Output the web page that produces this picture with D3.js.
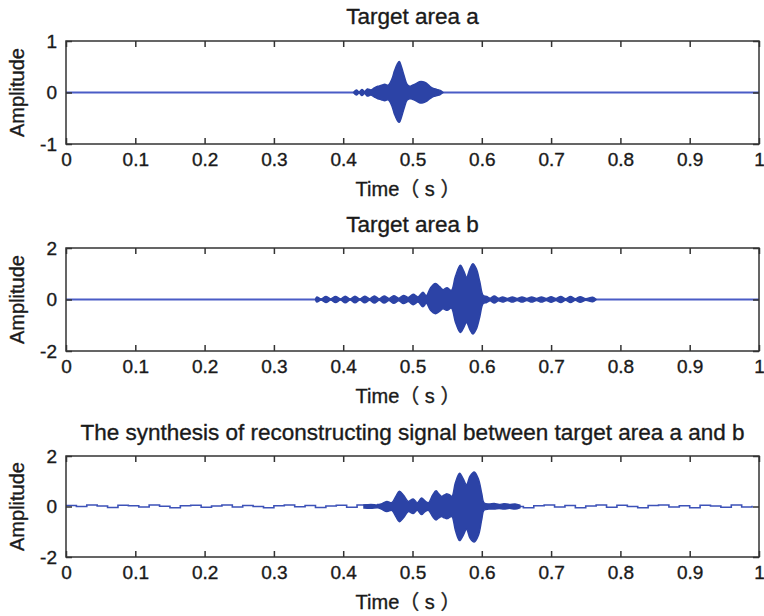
<!DOCTYPE html>
<html lang='en'>
<head>
  <meta charset='UTF-8'>
  <title>Target area signals</title>
  <style>
  body {
    margin: 0;
    background: #fff;
  }
  text {
    font-family: 'Liberation Sans', Arial, 'Noto Sans CJK SC', sans-serif;
    fill: #1a1a1a;
    stroke: #1a1a1a;
    stroke-width: 0.35px;
  }
  .tick text {
    font-size: 19px;
  }
  .label {
    font-size: 20px;
  }
  .title {
    font-size: 22.5px;
  }
  .axis path {
    display: none;
  }
  .axis line {
    stroke: #333;
    stroke-width: 1.5;
  }
  </style>
  <script src="https://d3js.org/d3.v7.min.js"></script>
</head>
<body>
  <script>

  // ---- data ----

  var xTicks = [0, 0.1, 0.2, 0.3, 0.4, 0.5, 0.6, 0.7, 0.8, 0.9, 1];
  var titles = [
    'Target area a',
    'Target area b',
    'The synthesis of reconstructing signal between target area a and b'
  ];
  var yTicksA = [-1, 0, 1];
  var yTicksB = [-2, 0, 2];

  // envelope of the burst in panel a
  var envTimeA = [0.415, 0.419, 0.423, 0.427, 0.431, 0.435, 0.44, 0.445, 0.45, 0.455, 0.46, 0.465, 0.47, 0.474, 0.478, 0.481, 0.484, 0.488, 0.492, 0.496, 0.5, 0.505, 0.51, 0.515, 0.52, 0.525, 0.53, 0.535, 0.54, 0.544];
  var envUpA = [0, 0.05, 0.01, 0.06, 0.02, 0.07, 0.05, 0.09, 0.12, 0.14, 0.16, 0.14, 0.25, 0.42, 0.55, 0.6, 0.5, 0.32, 0.16, 0.12, 0.14, 0.17, 0.21, 0.21, 0.18, 0.12, 0.08, 0.06, 0.04, 0];
  var envLowA = [0, -0.05, -0.01, -0.06, -0.02, -0.07, -0.05, -0.09, -0.12, -0.14, -0.16, -0.14, -0.25, -0.42, -0.54, -0.58, -0.48, -0.3, -0.15, -0.12, -0.13, -0.16, -0.2, -0.2, -0.17, -0.12, -0.08, -0.06, -0.04, 0];

  // envelope of the burst in panel b
  var envTimeB = [0.36, 0.362, 0.368, 0.375, 0.382, 0.389, 0.396, 0.403, 0.41, 0.417, 0.424, 0.431, 0.438, 0.445, 0.452, 0.459, 0.466, 0.473, 0.48, 0.487, 0.494, 0.501, 0.508, 0.515, 0.52, 0.526, 0.533, 0.539, 0.544, 0.55, 0.556, 0.562, 0.569, 0.574, 0.578, 0.583, 0.587, 0.592, 0.597, 0.602, 0.607, 0.612, 0.618, 0.624, 0.63, 0.637, 0.644, 0.651, 0.658, 0.665, 0.672, 0.679, 0.686, 0.693, 0.7, 0.707, 0.714, 0.721, 0.728, 0.735, 0.742, 0.75, 0.76, 0.765];
  var envUpB = [0, 0.1, 0.02, 0.12, 0.02, 0.12, 0.02, 0.13, 0.02, 0.13, 0.02, 0.13, 0.03, 0.14, 0.03, 0.14, 0.04, 0.15, 0.05, 0.16, 0.08, 0.2, 0.1, 0.28, 0.15, 0.45, 0.62, 0.5, 0.38, 0.46, 0.35, 0.9, 1.33, 1.1, 0.86, 1.2, 1.39, 1.2, 0.7, 0.15, 0.12, 0.05, 0.14, 0.05, 0.1, 0.04, 0.1, 0.04, 0.1, 0.04, 0.1, 0.04, 0.1, 0.04, 0.11, 0.04, 0.12, 0.03, 0.12, 0.03, 0.11, 0.03, 0.09, 0];
  var envLowB = [0, -0.1, -0.02, -0.12, -0.02, -0.12, -0.02, -0.13, -0.02, -0.13, -0.02, -0.13, -0.03, -0.14, -0.03, -0.14, -0.04, -0.15, -0.05, -0.16, -0.08, -0.2, -0.1, -0.28, -0.15, -0.42, -0.55, -0.46, -0.36, -0.42, -0.33, -0.88, -1.28, -1.08, -0.89, -1.18, -1.34, -1.15, -0.68, -0.15, -0.12, -0.05, -0.14, -0.05, -0.1, -0.04, -0.1, -0.04, -0.1, -0.04, -0.1, -0.04, -0.1, -0.04, -0.11, -0.04, -0.12, -0.03, -0.12, -0.03, -0.11, -0.03, -0.09, 0];

  // envelope of the burst in the synthesis panel
  var envTimeC = [0.43, 0.44, 0.45, 0.455, 0.463, 0.47, 0.476, 0.481, 0.487, 0.494, 0.501, 0.507, 0.513, 0.518, 0.523, 0.529, 0.534, 0.538, 0.542, 0.546, 0.55, 0.554, 0.557, 0.562, 0.568, 0.573, 0.578, 0.583, 0.589, 0.595, 0.6, 0.603, 0.61, 0.618, 0.625, 0.632, 0.64, 0.648, 0.655];
  var envUpC = [0.06, 0.08, 0.06, 0.1, 0.2, 0.15, 0.4, 0.6, 0.45, 0.2, 0.3, 0.15, 0.34, 0.22, 0.15, 0.45, 0.62, 0.5, 0.4, 0.46, 0.5, 0.45, 0.4, 0.95, 1.32, 1.1, 0.86, 1.2, 1.37, 1.1, 0.5, 0.15, 0.1, 0.12, 0.08, 0.11, 0.08, 0.1, 0.05];
  var envLowC = [-0.06, -0.07, -0.05, -0.1, -0.2, -0.15, -0.4, -0.6, -0.45, -0.2, -0.28, -0.15, -0.32, -0.2, -0.15, -0.4, -0.53, -0.45, -0.4, -0.45, -0.48, -0.42, -0.4, -0.95, -1.35, -1.15, -0.9, -1.25, -1.41, -1.15, -0.5, -0.15, -0.1, -0.1, -0.08, -0.1, -0.07, -0.1, -0.05];

  // background wiggle of the synthesis panel
  var noiseTimeC = [0, 0.015, 0.03, 0.045, 0.06, 0.075, 0.09, 0.105, 0.12, 0.135, 0.15, 0.165, 0.18, 0.195, 0.21, 0.225, 0.24, 0.255, 0.27, 0.285, 0.3, 0.315, 0.33, 0.345, 0.36, 0.375, 0.39, 0.405, 0.42, 0.435, 0.45, 0.6, 0.615, 0.63, 0.645, 0.66, 0.675, 0.69, 0.705, 0.72, 0.735, 0.75, 0.765, 0.78, 0.795, 0.81, 0.825, 0.84, 0.855, 0.87, 0.885, 0.9, 0.915, 0.93, 0.945, 0.96, 0.975, 0.99];
  var noiseValC = [0.04, 0, 0.06, 0.02, -0.04, 0.05, 0.03, -0.02, 0.06, 0.01, -0.05, 0.03, 0.05, -0.03, 0.02, 0.06, -0.02, 0.04, 0, -0.05, 0.03, 0.06, -0.01, 0.04, -0.04, 0.02, 0.05, -0.03, 0.06, 0.03, 0.08, 0.05, -0.04, 0.06, 0, -0.05, 0.03, 0.06, -0.02, 0.04, -0.05, 0.02, 0.06, -0.03, 0.05, 0, -0.05, 0.04, 0.06, -0.02, 0.03, -0.05, 0.05, 0.02, -0.03, 0.06, -0.02, 0.03];

  // ---- layout ----

  var svgWidth = 764;
  var svgHeight = 616;
  var left = 66;
  var right = 759;

  var panels = [
    { top: 41, bottom: 144, yTicks: yTicksA, time: envTimeA, up: envUpA, low: envLowA, titleY: 24 },
    { top: 248, bottom: 351, yTicks: yTicksB, time: envTimeB, up: envUpB, low: envLowB, titleY: 232 },
    { top: 456, bottom: 557, yTicks: yTicksB, time: envTimeC, up: envUpC, low: envLowC, titleY: 440,
      noiseT: noiseTimeC, noiseV: noiseValC }
  ];

  var svg = d3.select('body').append('svg')
    .attr('width', svgWidth)
    .attr('height', svgHeight);

  var x = d3.scaleLinear().domain([0, 1]).range([left, right]);

  panels.forEach(function (p, i) {
    var y = d3.scaleLinear()
      .domain(d3.extent(p.yTicks))
      .range([p.bottom, p.top]);

    var g = svg.append('g');

    // signal: baseline (or wiggle) then burst envelope

    if (p.noiseT) {
      g.append('path')
       .datum(d3.zip(p.noiseT, p.noiseV))
       .attr('fill', 'none')
       .attr('stroke', '#3d52b8')
       .attr('stroke-width', 1.6)
       .attr('d', d3.line()
         .curve(d3.curveStepAfter)
         .x(function (d) { return x(d[0]); })
         .y(function (d) { return y(d[1]); }));
    } else {
      g.append('path')
       .datum([0, 1])
       .attr('fill', 'none')
       .attr('stroke', '#4a5cc6')
       .attr('stroke-width', 2)
       .attr('d', d3.line()
         .x(function (d) { return x(d); })
         .y(function () { return y(0); }));
    }

    var env = p.time.map(function (t, k) { return [t, p.up[k], p.low[k]]; });

    g.append('path')
     .datum(env)
     .attr('fill', '#2c43a6')
     .attr('stroke', '#2c43a6')
     .attr('stroke-width', 1.5)
     .attr('d', d3.area()
       .curve(d3.curveCatmullRom.alpha(0.5))
       .x(function (d) { return x(d[0]); })
       .y0(function (d) { return y(d[2]); })
       .y1(function (d) { return y(d[1]); }));

    // axes with inward ticks on all four sides

    g.append('g')
     .attr('class', 'x axis')
     .attr('transform', 'translate(0,' + p.bottom + ')')
     .call(d3.axisBottom(x).tickValues(xTicks).tickSize(-6).tickPadding(10)
       .tickFormat(function (d) { return String(d); }));

    g.append('g')
     .attr('class', 'axis')
     .attr('transform', 'translate(0,' + p.top + ')')
     .call(d3.axisTop(x).tickValues(xTicks).tickSize(-6).tickFormat(''));

    g.append('g')
     .attr('class', 'y axis')
     .attr('transform', 'translate(' + left + ',0)')
     .call(d3.axisLeft(y).tickValues(p.yTicks).tickSize(-6).tickPadding(9)
       .tickFormat(function (d) { return String(d); }));

    g.append('g')
     .attr('class', 'axis')
     .attr('transform', 'translate(' + right + ',0)')
     .call(d3.axisRight(y).tickValues(p.yTicks).tickSize(-6).tickFormat(''));

    g.selectAll('.tick text').style('font-family', null).attr('fill', '#1a1a1a');
    g.selectAll('.x.axis .tick text').attr('dy', '0.62em');

    g.append('rect')
     .attr('x', left)
     .attr('y', p.top)
     .attr('width', right - left)
     .attr('height', p.bottom - p.top)
     .attr('fill', 'none')
     .attr('stroke', '#333')
     .attr('stroke-width', 1.5);

    // labels

    g.append('text')
     .attr('class', 'title')
     .attr('text-anchor', 'middle')
     .attr('x', (left + right) / 2)
     .attr('y', p.titleY)
     .text(titles[i]);

    g.append('text')
     .attr('class', 'label')
     .attr('text-anchor', 'middle')
     .attr('x', 408)
     .attr('y', p.bottom + 52)
     .text('Time（ s ）');

    g.append('text')
     .attr('class', 'label')
     .attr('text-anchor', 'middle')
     .attr('transform', 'translate(24,' + (p.top + p.bottom) / 2 + ') rotate(-90)')
     .text('Amplitude');
  });
  </script>
</body>
</html>
